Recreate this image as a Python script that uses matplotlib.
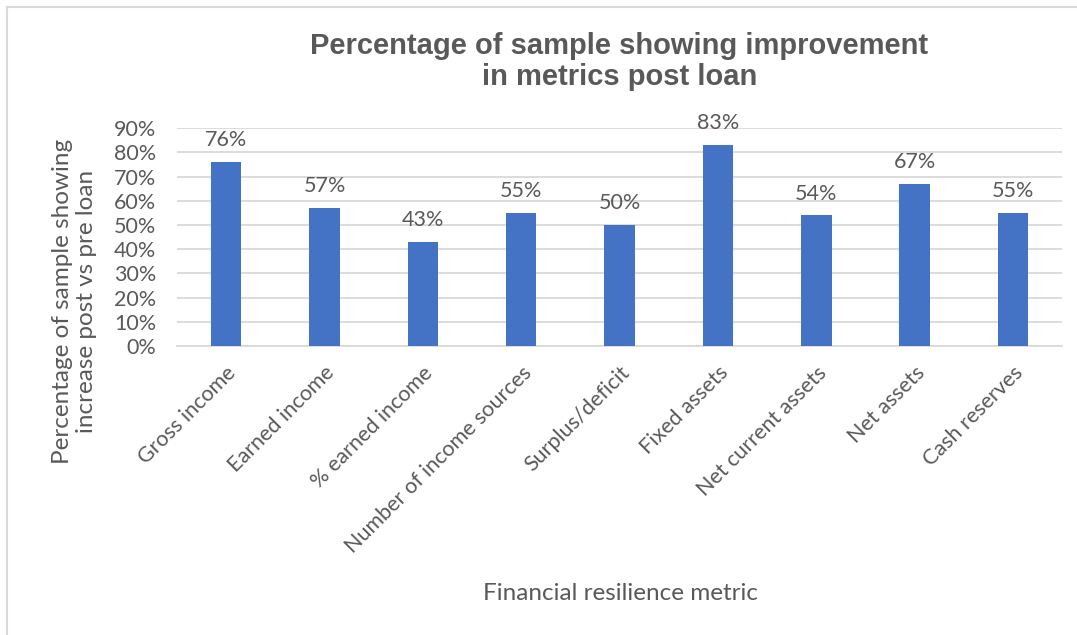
import matplotlib.pyplot as plt
from matplotlib.lines import Line2D
from matplotlib.ticker import PercentFormatter

# Financial resilience metrics and share of sample improving post loan
metrics = [
    "Gross income", "Earned income", "% earned income",
    "Number of income sources", "Surplus/deficit", "Fixed assets",
    "Net current assets", "Net assets", "Cash reserves",
]
improved = [0.76, 0.57, 0.43, 0.55, 0.50, 0.83, 0.54, 0.67, 0.55]
y_ticks = [0.0, 0.1, 0.2, 0.3, 0.4, 0.5, 0.6, 0.7, 0.8, 0.9]

TEXT = "#595959"
BAR = "#4472C4"
GRID = "#D9D9D9"
BODY_FONT = ["Lato", "DejaVu Sans"]

fig = plt.figure(figsize=(10.77, 6.35), dpi=100)
ax = fig.add_axes([0.1643, 0.455, 0.822, 0.343])

x = range(len(metrics))
bars = ax.bar(x, improved, width=0.31, color=BAR, zorder=3)
for b, v in zip(bars, improved):
    ax.annotate(f"{v:.0%}", (b.get_x() + b.get_width() / 2, v),
                xytext=(0, 8.5), textcoords="offset points",
                ha="center", va="bottom", fontsize=15.5,
                color=TEXT, family=BODY_FONT)

ax.set_xlim(-0.5, len(metrics) - 0.5)
ax.set_ylim(0, 0.9)
ax.set_yticks(y_ticks)
ax.yaxis.set_major_formatter(PercentFormatter(1.0, decimals=0))
ax.grid(axis="y", color=GRID, linewidth=1.3, zorder=0)
for s in ["top", "right", "left"]:
    ax.spines[s].set_visible(False)
ax.spines["bottom"].set_color(GRID)
ax.spines["bottom"].set_linewidth(1.3)
ax.tick_params(axis="both", length=0, colors=TEXT, labelsize=15.5)
ax.tick_params(axis="y", pad=15)
ax.tick_params(axis="x", pad=12)

ax.set_xticks(list(x))
ax.set_xticklabels(metrics, rotation=45, ha="right", rotation_mode="anchor",
                   family=BODY_FONT)
for lbl in ax.get_yticklabels():
    lbl.set_family(BODY_FONT)

ax.set_ylabel("Percentage of sample showing\nincrease post vs pre loan",
              fontsize=17.5, color=TEXT, family=BODY_FONT, va="center",
              linespacing=1.2)
ax.yaxis.set_label_coords(-0.116, 0.206)
fig.text(0.576, 0.065, "Financial resilience metric", ha="center",
         va="center", fontsize=17.5, color=TEXT, family=BODY_FONT)

fig.text(0.575, 0.903,
         "Percentage of sample showing improvement\nin metrics post loan",
         ha="center", va="center", fontsize=21, fontweight="bold",
         color=TEXT, family=["Liberation Sans", "DejaVu Sans"],
         linespacing=1.1)

# chart frame (left and top edges)
fig.add_artist(Line2D([7 / 1077, 7 / 1077], [0, 1 - 7 / 635],
                      color=GRID, linewidth=1.5))
fig.add_artist(Line2D([7 / 1077, 1], [1 - 7 / 635, 1 - 7 / 635],
                      color=GRID, linewidth=1.5))

fig.savefig("out.png", dpi=100, facecolor="white")
